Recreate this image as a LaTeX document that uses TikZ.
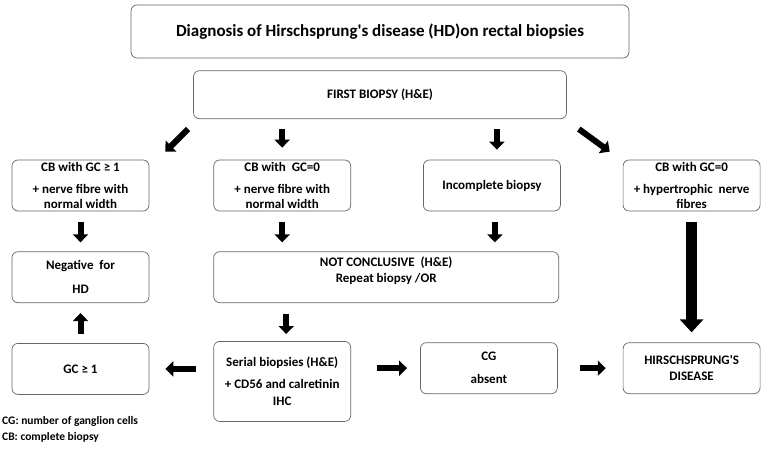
\documentclass[tikz,border=0pt]{standalone}
\usepackage{fontspec}
\setmainfont{Carlito}
\usepackage{tikz}
\usetikzlibrary{arrows.meta, positioning}

\begin{document}
\begin{tikzpicture}[
  box/.style={rectangle, draw=black!60, line width=0.7pt, rounded corners=6pt, minimum width=137pt, minimum height=51pt, align=center, inner sep=0pt, font=\fontsize{13}{15}\selectfont\bfseries},
  arrow/.style={-{Triangle[length=8pt,width=15pt]}, line width=6pt},
  bigarrow/.style={-{Triangle[length=13pt,width=23pt]}, line width=11pt},
  note/.style={anchor=west, inner sep=0pt, font=\fontsize{11.5}{14}\selectfont\bfseries}
]
  \useasboundingbox (0,0) rectangle (764pt,-450pt);

  \node[box, minimum width=498pt, minimum height=53pt, font=\fontsize{17}{19}\selectfont\bfseries] (title) at (380pt,-31.5pt) {Diagnosis of Hirschsprung\textquotesingle s disease (HD)on rectal biopsies};
  \node[box, minimum width=373pt, minimum height=48pt, font=\fontsize{13}{15}\selectfont\bfseries, below=12pt of title] (first) {FIRST BIOPSY (H\&E)};

  % first row of findings
  \node[box] (cbone) at (80.5pt,-185.5pt) {CB with GC ≥ 1\\[7pt] + nerve fibre with\\ normal\ width};
  \node[box, right=64pt of cbone] (cbzero) {CB with\ \ GC=0\\[7pt] + nerve fibre with\\ normal\ width};
  \node[box, right=72pt of cbzero] (incomp) {Incomplete biopsy};
  \node[box, right=62pt of incomp] (cbhyp) {CB with GC=0\\[7pt] + hypertrophic\ \ nerve\\ fibres};

  % second row
  \node[box, below=40pt of cbone] (neg) {Negative\ \ for\\[9pt] HD};
  \node[box, minimum width=345pt, below right=40pt and 0pt of cbzero.south west] (notc) {NOT CONCLUSIVE\ \ (H\&E)\\[1pt] Repeat biopsy /OR\\ \mbox{}};

  % third row
  \node[box, below=40pt of neg] (gcone) {GC ≥ 1};
  \node[box, minimum height=80pt, below right=38pt and 0pt of notc.south west] (serial) {Serial biopsies (H\&E)\\[7pt] + CD56 and calretinin\\[2pt] IHC};
  \node[box, below=131pt of incomp, xshift=-3pt] (cg) {CG\\[8pt] absent};
  \node[box, below=131pt of cbhyp] (hd) {HIRSCHSPRUNG\textquotesingle S\\[1pt] DISEASE};

  \node[note] (legcg) at (2pt,-421pt) {CG: number of ganglion cells};
  \node[note, below=16pt of legcg.west, anchor=west] (legcb) {CB: complete biopsy};

  \draw[arrow] ([xshift=-5pt,yshift=-10pt]first.south west) -- ([xshift=16pt,yshift=8pt]cbone.north east);
  \draw[arrow, shorten <=10pt, shorten >=12pt] (first.south -| cbzero.north) -- (cbzero.north);
  \draw[arrow, shorten <=10pt, shorten >=10pt] ([xshift=5pt]first.south -| incomp.north) -- ([xshift=5pt]incomp.north);
  \draw[arrow] ([xshift=12pt,yshift=-10pt]first.south east) -- ([xshift=-13pt,yshift=8pt]cbhyp.north west);

  \draw[arrow, shorten <=11pt, shorten >=9pt] (cbone.south) -- (neg.north);
  \draw[arrow, shorten <=11pt, shorten >=9pt] (cbzero.south) -- (cbzero.south |- notc.north);
  \draw[arrow, shorten <=11pt, shorten >=9pt] ([xshift=3pt]incomp.south) -- ([xshift=3pt]incomp.south |- notc.north);
  \draw[bigarrow, shorten <=11pt, shorten >=10pt] (cbhyp.south) -- (hd.north);

  \draw[arrow, shorten <=9pt, shorten >=10pt] (gcone.north) -- (neg.south);
  \draw[arrow, shorten <=11pt, shorten >=7pt] ([xshift=4pt]serial.north |- notc.south) -- ([xshift=4pt]serial.north);
  \draw[arrow, shorten <=17pt, shorten >=16pt] (serial.west |- gcone.east) -- (gcone.east);
  \draw[arrow, shorten <=26pt, shorten >=13pt] (serial.east |- cg.west) -- (cg.west);
  \draw[arrow, shorten <=22pt, shorten >=17pt] (cg.east) -- (hd.west);
\end{tikzpicture}
\end{document}
